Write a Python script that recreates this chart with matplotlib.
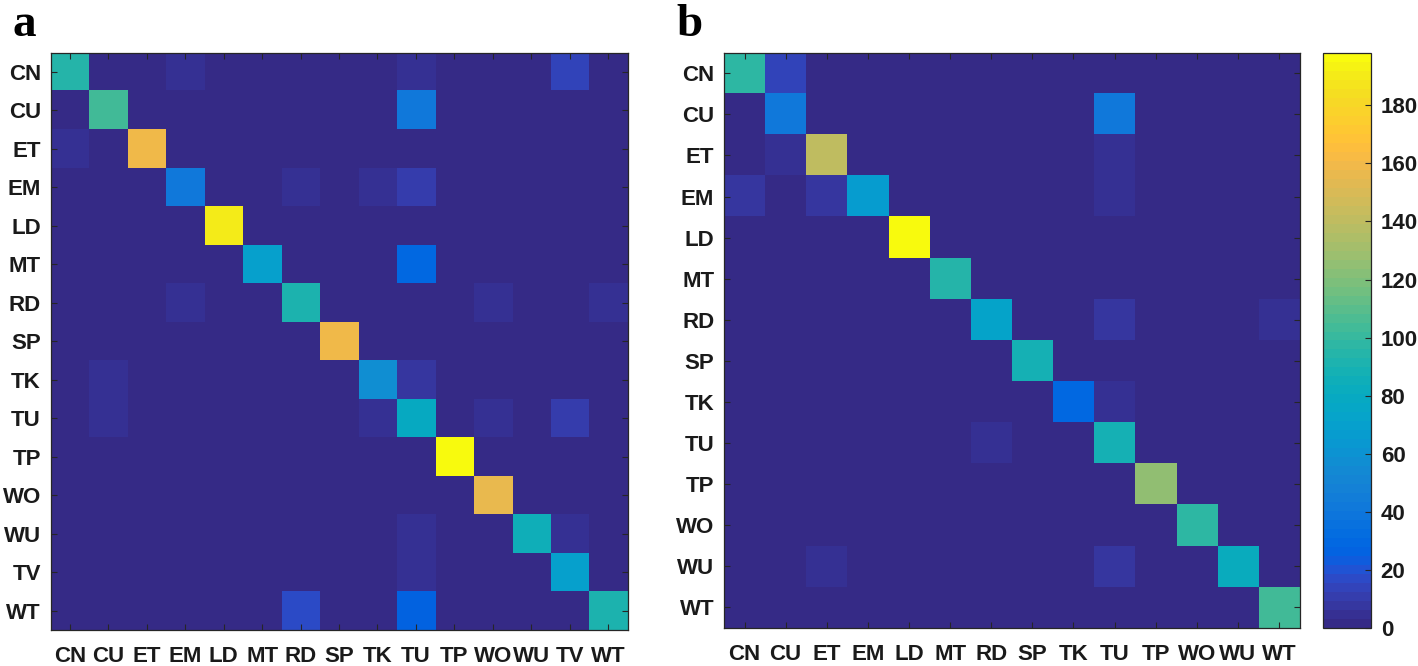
import numpy as np
import matplotlib
matplotlib.use("Agg")
import matplotlib.pyplot as plt
from matplotlib.colors import ListedColormap

# ---------------- data ----------------
labels_a = ["CN", "CU", "ET", "EM", "LD", "MT", "RD", "SP", "TK", "TU", "TP", "WO", "WU", "TV", "WT"]
labels_b = ["CN", "CU", "ET", "EM", "LD", "MT", "RD", "SP", "TK", "TU", "TP", "WO", "WU", "WT"]

#            CN   CU   ET   EM   LD   MT   RD   SP   TK   TU   TP   WO   WU   TV   WT
cm_a = [
    [95,   0,   0,   5,   0,   0,   0,   0,   0,   5,   0,   0,   0,  14,   0],   # CN
    [0,  104,   0,   0,   0,   0,   0,   0,   0,  41,   0,   0,   0,   0,   0],   # CU
    [5,    0, 158,   0,   0,   0,   0,   0,   0,   0,   0,   0,   0,   0,   0],   # ET
    [0,    0,   0,  41,   0,   0,   4,   0,   4,  10,   0,   0,   0,   0,   0],   # EM
    [0,    0,   0,   0, 190,   0,   0,   0,   0,   0,   0,   0,   0,   0,   0],   # LD
    [0,    0,   0,   0,   0,  69,   0,   0,   0,  29,   0,   0,   0,   0,   0],   # MT
    [0,    0,   0,   5,   0,   0,  91,   0,   0,   0,   0,   4,   0,   0,   4],   # RD
    [0,    0,   0,   0,   0,   0,   0, 158,   0,   0,   0,   0,   0,   0,   0],   # SP
    [0,    4,   0,   0,   0,   0,   0,   0,  57,   8,   0,   0,   0,   0,   0],   # TK
    [0,    4,   0,   0,   0,   0,   0,   0,   4,  79,   0,   4,   0,  10,   0],   # TU
    [0,    0,   0,   0,   0,   0,   0,   0,   0,   0, 197,   0,   0,   0,   0],   # TP
    [0,    0,   0,   0,   0,   0,   0,   0,   0,   0,   0, 155,   0,   0,   0],   # WO
    [0,    0,   0,   0,   0,   0,   0,   0,   0,   6,   0,   0,  85,   6,   0],   # WU
    [0,    0,   0,   0,   0,   0,   0,   0,   0,   6,   0,   0,   0,  70,   0],   # TV
    [0,    0,   0,   0,   0,   0,  17,   0,   0,  26,   0,   0,   0,   0,  92],   # WT
]

#            CN   CU   ET   EM   LD   MT   RD   SP   TK   TU   TP   WO   WU   WT
cm_b = [
    [97,  14,   0,   0,   0,   0,   0,   0,   0,   0,   0,   0,   0,   0],   # CN
    [0,   41,   0,   0,   0,   0,   0,   0,   0,  41,   0,   0,   0,   0],   # CU
    [0,    5, 140,   0,   0,   0,   0,   0,   0,   6,   0,   0,   0,   0],   # ET
    [9,    0,   9,  68,   0,   0,   0,   0,   0,   5,   0,   0,   0,   0],   # EM
    [0,    0,   0,   0, 197,   0,   0,   0,   0,   0,   0,   0,   0,   0],   # LD
    [0,    0,   0,   0,   0,  94,   0,   0,   0,   0,   0,   0,   0,   0],   # MT
    [0,    0,   0,   0,   0,   0,  74,   0,   0,   8,   0,   0,   0,   6],   # RD
    [0,    0,   0,   0,   0,   0,   0,  88,   0,   0,   0,   0,   0,   0],   # SP
    [0,    0,   0,   0,   0,   0,   0,   0,  28,   6,   0,   0,   0,   0],   # TK
    [0,    0,   0,   0,   0,   0,   6,   0,   0,  88,   0,   0,   0,   0],   # TU
    [0,    0,   0,   0,   0,   0,   0,   0,   0,   0, 125,   0,   0,   0],   # TP
    [0,    0,   0,   0,   0,   0,   0,   0,   0,   0,   0,  97,   0,   0],   # WO
    [0,    0,   6,   0,   0,   0,   0,   0,   0,   8,   0,   0,  82,   0],   # WU
    [0,    0,   0,   0,   0,   0,   0,   0,   0,   0,   0,   0,   0, 104],   # WT
]

color_min = 0
color_max = 198
cbar_ticks = [0, 20, 40, 60, 80, 100, 120, 140, 160, 180]

# MATLAB parula (64 levels)
parula_rgb = [
    [0.2081, 0.1663, 0.5292], [0.2116, 0.1898, 0.5777], [0.2123, 0.2138, 0.6270], [0.2081, 0.2386, 0.6771],
    [0.1959, 0.2645, 0.7279], [0.1707, 0.2919, 0.7792], [0.1253, 0.3242, 0.8303], [0.0591, 0.3598, 0.8683],
    [0.0117, 0.3875, 0.8820], [0.0060, 0.4086, 0.8828], [0.0165, 0.4266, 0.8786], [0.0329, 0.4430, 0.8720],
    [0.0498, 0.4586, 0.8641], [0.0629, 0.4737, 0.8554], [0.0723, 0.4887, 0.8467], [0.0779, 0.5040, 0.8384],
    [0.0793, 0.5200, 0.8312], [0.0749, 0.5375, 0.8263], [0.0641, 0.5570, 0.8240], [0.0488, 0.5772, 0.8228],
    [0.0343, 0.5966, 0.8199], [0.0265, 0.6137, 0.8135], [0.0239, 0.6287, 0.8038], [0.0231, 0.6418, 0.7913],
    [0.0228, 0.6535, 0.7768], [0.0267, 0.6642, 0.7607], [0.0384, 0.6743, 0.7436], [0.0590, 0.6838, 0.7254],
    [0.0843, 0.6928, 0.7062], [0.1133, 0.7015, 0.6859], [0.1453, 0.7098, 0.6646], [0.1801, 0.7177, 0.6424],
    [0.2178, 0.7250, 0.6193], [0.2586, 0.7317, 0.5954], [0.3022, 0.7376, 0.5712], [0.3482, 0.7424, 0.5473],
    [0.3953, 0.7459, 0.5244], [0.4420, 0.7481, 0.5033], [0.4871, 0.7491, 0.4840], [0.5300, 0.7491, 0.4661],
    [0.5709, 0.7485, 0.4494], [0.6099, 0.7473, 0.4337], [0.6473, 0.7456, 0.4188], [0.6834, 0.7435, 0.4044],
    [0.7184, 0.7411, 0.3905], [0.7525, 0.7384, 0.3768], [0.7858, 0.7356, 0.3633], [0.8185, 0.7327, 0.3498],
    [0.8507, 0.7299, 0.3360], [0.8824, 0.7274, 0.3217], [0.9139, 0.7258, 0.3063], [0.9450, 0.7261, 0.2886],
    [0.9739, 0.7314, 0.2666], [0.9938, 0.7455, 0.2403], [0.9990, 0.7653, 0.2164], [0.9955, 0.7861, 0.1967],
    [0.9880, 0.8066, 0.1794], [0.9789, 0.8271, 0.1633], [0.9697, 0.8481, 0.1475], [0.9626, 0.8705, 0.1309],
    [0.9589, 0.8949, 0.1132], [0.9598, 0.9218, 0.0948], [0.9661, 0.9514, 0.0755], [0.9763, 0.9831, 0.0538],
]
parula = ListedColormap(parula_rgb, name="parula")

# ---------------- figure ----------------
W, H = 1418, 666
fig = plt.figure(figsize=(W / 100, H / 100), dpi=100)
fig.patch.set_facecolor("white")

def px_rect(x0, y0, x1, y1):
    return [x0 / W, 1 - y1 / H, (x1 - x0) / W, (y1 - y0) / H]

edge = "#262626"
tick_font = dict(family=["Liberation Sans", "DejaVu Sans"], weight="bold", size=16)

def draw_cm(ax, data, labels):
    arr = np.array(data, dtype=float)
    im = ax.imshow(arr, cmap=parula, vmin=color_min, vmax=color_max,
                   aspect="auto", interpolation="nearest")
    n = len(labels)
    ax.set_xticks(range(n))
    ax.set_yticks(range(n))
    ax.set_xticklabels(labels, **tick_font)
    ax.set_yticklabels(labels, **tick_font)
    ax.tick_params(axis="both", direction="in", length=4.3, width=0.8, color=edge,
                   top=True, right=True, labelcolor="#1a1a1a")
    ax.tick_params(axis="x", pad=11.5)
    ax.tick_params(axis="y", pad=7)
    for s in ax.spines.values():
        s.set_color(edge)
        s.set_linewidth(0.9)
    return im

ax_a = fig.add_axes(px_rect(50.5, 52.5, 627.5, 630))
im_a = draw_cm(ax_a, cm_a, labels_a)

ax_b = fig.add_axes(px_rect(724, 52.7, 1299.5, 628))
im_b = draw_cm(ax_b, cm_b, labels_b)

cax = fig.add_axes(px_rect(1323, 53, 1371, 628))
cb = fig.colorbar(im_b, cax=cax)
cb.set_ticks(cbar_ticks)
cb.ax.set_yticklabels([str(t) for t in cbar_ticks], **tick_font)
cb.ax.tick_params(direction="in", length=4.3, width=0.8, color=edge, pad=7, labelcolor="#1a1a1a")
cb.outline.set_edgecolor(edge)
cb.outline.set_linewidth(0.9)

panel_font = dict(family=["Liberation Serif", "DejaVu Serif"], weight="bold", size=34)
fig.text(13 / W, 1 - 36 / H, "a", ha="left", va="baseline", **panel_font)
fig.text(676 / W, 1 - 36 / H, "b", ha="left", va="baseline", **panel_font)

fig.savefig("out.png", dpi=100, facecolor="white")
